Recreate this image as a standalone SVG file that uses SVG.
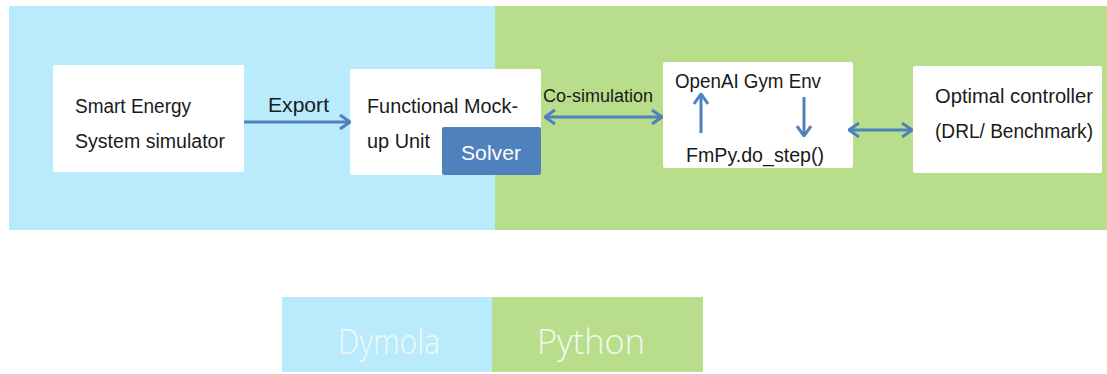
<svg xmlns="http://www.w3.org/2000/svg" width="1107" height="374" viewBox="0 0 1107 374">
<style>
.t{font-family:"Liberation Sans",Arial,sans-serif;font-size:20px;fill:#1a1a1a}
.box{fill:#ffffff}
.c{stroke:#4f81bd;stroke-width:3;fill:none}
.leg{font-family:"Open Sans","Liberation Sans",sans-serif;font-weight:300;font-size:34px;fill:#f2f8f2}
</style>
<defs>
<marker id="ah" viewBox="0 0 12 16" refX="11" refY="8" markerWidth="12" markerHeight="16" markerUnits="userSpaceOnUse" orient="auto-start-reverse">
<path d="M1,1 L11,8 L1,15" fill="none" stroke="#4f81bd" stroke-width="3"/>
</marker>
</defs>
<g id="bg-dymola"><rect x="9" y="6" width="486" height="224" fill="#b9ebfc"/></g>
<g id="bg-python"><rect x="495" y="6" width="612" height="224" fill="#b8de8b"/></g>
<g id="node-smart">
<rect class="box" x="53" y="65" width="191" height="107" rx="2"/>
<text class="t" x="75" y="113" textLength="116" lengthAdjust="spacingAndGlyphs">Smart Energy</text>
<text class="t" x="75" y="148" textLength="150" lengthAdjust="spacingAndGlyphs">System simulator</text>
</g>
<g id="node-fmu">
<rect class="box" x="350" y="69" width="191" height="106" rx="2"/>
<text class="t" x="367" y="113" textLength="151" lengthAdjust="spacingAndGlyphs">Functional Mock-</text>
<text class="t" x="367" y="148" textLength="63" lengthAdjust="spacingAndGlyphs">up Unit</text>
</g>
<g id="node-solver">
<rect x="442" y="127" width="99" height="48" rx="2" fill="#4f81bd"/>
<text class="t" x="461" y="160" textLength="60" lengthAdjust="spacingAndGlyphs" style="fill:#ffffff;font-size:21px">Solver</text>
</g>
<g id="node-gym">
<rect class="box" x="663" y="62" width="190" height="106" rx="2"/>
<text class="t" x="675" y="88" textLength="146" lengthAdjust="spacingAndGlyphs">OpenAI Gym Env</text>
<text class="t" x="686" y="162" textLength="138" lengthAdjust="spacingAndGlyphs">FmPy.do_step()</text>
</g>
<g id="node-optimal">
<rect class="box" x="913" y="66" width="189" height="107" rx="2"/>
<text class="t" x="935" y="103" textLength="158" lengthAdjust="spacingAndGlyphs">Optimal controller</text>
<text class="t" x="935" y="138" textLength="158" lengthAdjust="spacingAndGlyphs">(DRL/ Benchmark)</text>
</g>
<g id="connectors">
<line class="c" x1="244" y1="122" x2="350" y2="122" marker-end="url(#ah)"/>
<text class="t" x="268" y="112" textLength="61" lengthAdjust="spacingAndGlyphs" style="font-size:21px">Export</text>
<line class="c" x1="545" y1="117" x2="662" y2="117" marker-start="url(#ah)" marker-end="url(#ah)"/>
<text class="t" x="543" y="102" textLength="110" lengthAdjust="spacingAndGlyphs" style="font-size:18px">Co-simulation</text>
<line class="c" x1="701" y1="133" x2="701" y2="94" marker-end="url(#ah)"/>
<line class="c" x1="804" y1="97" x2="804" y2="136" marker-end="url(#ah)"/>
<line class="c" x1="849" y1="130" x2="912" y2="130" marker-start="url(#ah)" marker-end="url(#ah)"/>
</g>
<g id="legend">
<rect x="282" y="297" width="210" height="75" fill="#b9ebfc"/>
<rect x="492" y="297" width="211" height="75" fill="#b8de8b"/>
<text class="leg" x="338" y="354" textLength="102" lengthAdjust="spacingAndGlyphs">Dymola</text>
<text class="leg" x="537" y="354" textLength="108" lengthAdjust="spacingAndGlyphs">Python</text>
</g>
</svg>
